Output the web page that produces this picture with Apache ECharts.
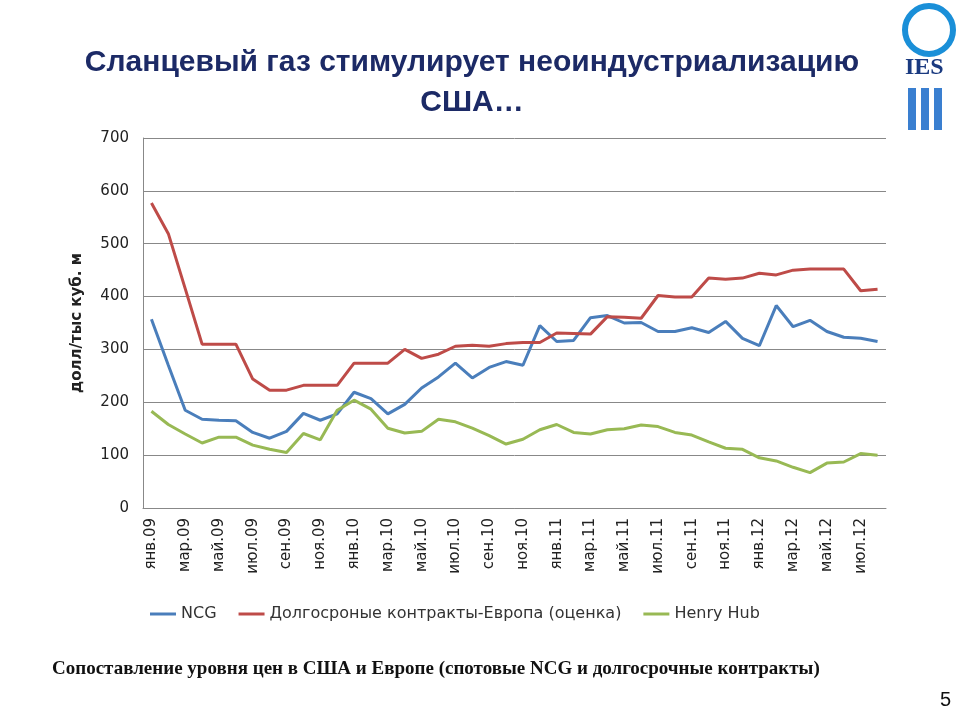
<!DOCTYPE html>
<html><head><meta charset="utf-8">
<script src="https://cdn.jsdelivr.net/npm/echarts@6/dist/echarts.min.js"></script>
<style>html,body{margin:0;background:#fff}#c{width:960px;height:720px}</style></head>
<body><div id="c"></div>
<script>
const categories = (function(){const m=['янв','фев','мар','апр','май','июн','июл','авг','сен','окт','ноя','дек'];const r=[];for(const y of ['09','10','11','12'])for(const x of m)r.push(x+'.'+y);return r.slice(0,44);})();
const ncg = [357,270,185,168,166,165,143,132,145,179,166,178,219,207,178,196,227,248,274,246,266,277,270,345,315,317,360,364,350,351,334,334,341,332,353,321,307,383,343,355,334,323,321,315];
const europe = [577,519,415,310,310,310,244,223,223,232,232,232,274,274,274,300,283,291,306,308,306,311,313,313,331,330,329,362,361,359,402,399,399,435,433,435,444,441,450,452,452,452,411,414];
const henryHub = [183,158,140,123,134,134,119,111,105,141,129,185,204,187,151,142,145,168,163,151,137,121,130,148,158,143,140,148,150,157,154,143,138,125,113,111,95,89,77,67,85,87,103,100];
const yTicks = [0,100,200,300,400,500,600,700];
const chart = echarts.init(document.getElementById('c'));
const font = 'Liberation Sans';
chart.setOption({
  animation:false,
  title:{text:'Сланцевый газ стимулирует неоиндустриализацию\nСША…',left:467,top:38,textAlign:'center',
    textStyle:{fontFamily:font,fontSize:30,fontWeight:'bold',color:'#1c2a66',lineHeight:40}},
  grid:{left:143,right:74,top:138,bottom:212},
  legend:{top:601,left:145,itemWidth:26,itemHeight:3,icon:'rect',itemGap:22,
    textStyle:{fontFamily:'DejaVu Sans',fontSize:16,color:'#333'}},
  xAxis:{type:'category',data:categories,boundaryGap:true,
    axisLine:{lineStyle:{color:'#888'}},axisTick:{show:false},
    axisLabel:{interval:1,rotate:90,fontFamily:'DejaVu Sans',fontSize:15,color:'#222',margin:10}},
  yAxis:{type:'value',min:0,max:700,interval:100,name:'долл/тыс куб. м',nameLocation:'middle',nameGap:58,
    nameTextStyle:{fontFamily:'DejaVu Sans',fontSize:15,fontWeight:'bold',color:'#222'},
    axisLine:{show:true,lineStyle:{color:'#888'}},axisTick:{show:false},
    axisLabel:{fontFamily:'DejaVu Sans',fontSize:15,color:'#222',margin:14,formatter:v=>yTicks.includes(v)?String(v):''},
    splitLine:{lineStyle:{color:'#888'}}},
  series:[
    {name:'NCG',type:'line',data:ncg,symbol:'none',lineStyle:{width:3,color:'#4a7ebb'},itemStyle:{color:'#4a7ebb'}},
    {name:'Долгосроные контракты-Европа (оценка)',type:'line',data:europe,symbol:'none',lineStyle:{width:3,color:'#be4b48'},itemStyle:{color:'#be4b48'}},
    {name:'Henry Hub',type:'line',data:henryHub,symbol:'none',lineStyle:{width:3,color:'#98b954'},itemStyle:{color:'#98b954'}}
  ],
  graphic:[
    {type:'text',left:52,top:660,style:{text:'Сопоставление уровня цен в США и Европе (спотовые NCG и долгосрочные контракты)',font:'bold 19px "Liberation Serif"',fill:'#111'}},
    {type:'text',left:940,top:690,style:{text:'5',font:'20px "Liberation Sans"',fill:'#111'}},
    {type:'circle',shape:{cx:929,cy:30,r:24},style:{fill:'#fff',stroke:'#1a8fd8',lineWidth:6}},
    {type:'text',left:905,top:56,style:{text:'IES',font:'bold 24px "Liberation Serif"',fill:'#1a3a80'}},
    {type:'rect',shape:{x:908,y:88,width:8,height:42},style:{fill:'#3a7fd0'}},
    {type:'rect',shape:{x:921,y:88,width:8,height:42},style:{fill:'#3a7fd0'}},
    {type:'rect',shape:{x:934,y:88,width:8,height:42},style:{fill:'#3a7fd0'}}
  ]
});
</script></body></html>
